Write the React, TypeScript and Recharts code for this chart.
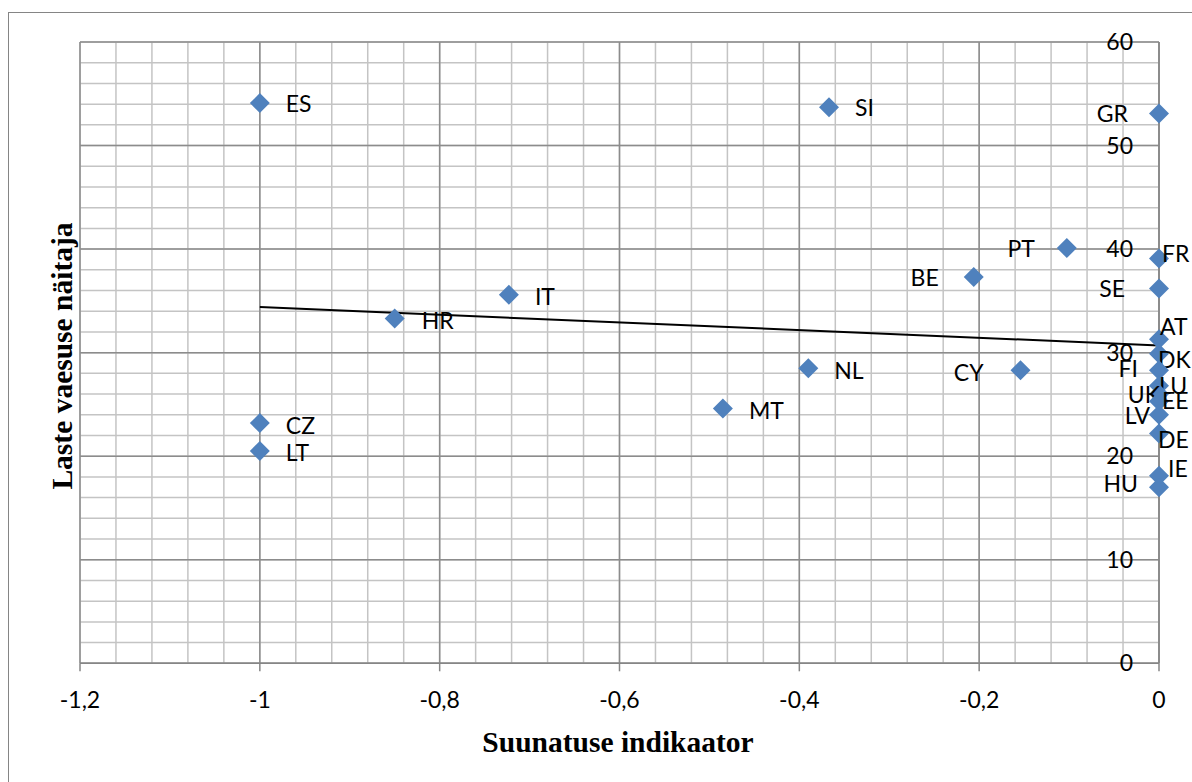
import React from 'react';
import { ScatterChart, Scatter, XAxis, YAxis, ReferenceLine } from 'recharts';

// ---- data ----
const countries = ['ES', 'SI', 'GR', 'PT', 'FR', 'BE', 'SE', 'IT', 'HR', 'CZ', 'LT', 'NL', 'CY', 'MT', 'AT', 'DK', 'FI', 'LU', 'UK', 'EE', 'LV', 'DE', 'IE', 'HU'];
const direction = [-1, -0.367, 0, -0.1025, 0, -0.206, 0, -0.723, -0.85, -1, -1, -0.39, -0.154, -0.485, 0, 0, 0, 0, 0, 0, 0, 0, 0, 0];
const childPoverty = [54.1, 53.7, 53.1, 40.1, 39.1, 37.3, 36.2, 35.6, 33.3, 23.2, 20.5, 28.5, 28.3, 24.6, 31.3, 29.9, 28.3, 26.8, 26.0, 25.3, 24.0, 22.2, 18.1, 17.0];
const xTicks = [-1.2, -1, -0.8, -0.6, -0.4, -0.2, 0];
const yTicks = [0, 10, 20, 30, 40, 50, 60];
const trendX = [-1, 0];
const trendY = [34.4, 30.7];

const xTitle = 'Suunatuse indikaator';
const yTitle = 'Laste vaesuse näitaja';

// ---- label placement (style) ----
type Place = { side: 'left' | 'right'; dx: number; dy: number };
const labelPlacement: Record<string, Place> = {
  ES: { side: 'right', dx: 26, dy: 0 },
  SI: { side: 'right', dx: 26, dy: 0 },
  GR: { side: 'left', dx: -31, dy: 0 },
  PT: { side: 'left', dx: -32, dy: 0 },
  FR: { side: 'right', dx: 3, dy: -5 },
  BE: { side: 'left', dx: -35, dy: 0 },
  SE: { side: 'left', dx: -34, dy: 0 },
  IT: { side: 'right', dx: 26, dy: 1 },
  HR: { side: 'right', dx: 27, dy: 2 },
  CZ: { side: 'right', dx: 26, dy: 2 },
  LT: { side: 'right', dx: 26, dy: 1 },
  NL: { side: 'right', dx: 26, dy: 2 },
  CY: { side: 'left', dx: -37, dy: 2 },
  MT: { side: 'right', dx: 26, dy: 1 },
  AT: { side: 'right', dx: 1, dy: -13 },
  DK: { side: 'right', dx: -1, dy: 5 },
  FI: { side: 'left', dx: -21, dy: -2 },
  LU: { side: 'right', dx: 0, dy: -1 },
  UK: { side: 'left', dx: 1, dy: 0 },
  EE: { side: 'right', dx: 3, dy: -1 },
  LV: { side: 'left', dx: -9, dy: 0 },
  DE: { side: 'right', dx: -1, dy: 6 },
  IE: { side: 'right', dx: 9, dy: -8 },
  HU: { side: 'left', dx: -21, dy: -4 },
};

const points = countries.map((name, i) => ({ name, x: direction[i], y: childPoverty[i] }));

const minorX: number[] = [];
for (let i = 0; i <= 30; i++) minorX.push(+(-1.2 + i * 0.04).toFixed(4));
const minorY: number[] = [];
for (let i = 0; i <= 30; i++) minorY.push(i * 2);

const FONT = 'Lato, "Open Sans", sans-serif';
const SERIF = '"Liberation Serif", "Times New Roman", serif';
const MARKER = '#4F81BD';
const MINOR = '#c4c4c4';
const MAJOR = '#8c8c8c';
const AXIS = '#868686';

const fmt = (v: number) => String(v).replace('.', ',');

const Diamond = (props: any) => {
  const { cx, cy, payload } = props;
  if (cx == null || cy == null) return null;
  const r = 10;
  const p = labelPlacement[payload.name] || { side: 'right', dx: 26, dy: 0 };
  return (
    <g>
      <polygon points={`${cx},${cy - r} ${cx + r},${cy} ${cx},${cy + r} ${cx - r},${cy}`} fill={MARKER} />
      <text
        x={cx + p.dx}
        y={cy + p.dy}
        textAnchor={p.side === 'left' ? 'end' : 'start'}
        dominantBaseline="central"
        fontFamily={FONT}
        fontSize={23}
        fill="#000"
      >
        {payload.name}
      </text>
    </g>
  );
};

export default function App() {
  return (
    <div style={{ position: 'relative', width: 1192, height: 782, overflow: 'hidden', background: '#fff' }}>
      <style>{'body{margin:0;}'}</style>
      <div
        style={{
          position: 'absolute',
          left: 8,
          top: 12,
          width: 1200,
          height: 800,
          border: '1px solid #858585',
          boxSizing: 'border-box',
        }}
      />
      <div style={{ position: 'absolute', left: 0, top: 0 }}>
        <ScatterChart width={1192} height={782} margin={{ top: 42, right: 33, left: 80, bottom: 58.7 }}>
          <XAxis
            type="number"
            dataKey="x"
            domain={[-1.2, 0]}
            ticks={xTicks}
            tickFormatter={fmt}
            height={60}
            tickSize={8}
            tickMargin={20}
            axisLine={{ stroke: AXIS, strokeWidth: 1.5 }}
            tickLine={{ stroke: AXIS, strokeWidth: 1.5 }}
            tick={{ fill: '#000', fontSize: 23, fontFamily: FONT }}
          />
          <YAxis
            type="number"
            dataKey="y"
            domain={[0, 60]}
            ticks={yTicks}
            orientation="right"
            mirror
            width={60}
            tickSize={6}
            tickMargin={20}
            axisLine={{ stroke: AXIS, strokeWidth: 1.5 }}
            tickLine={false}
            tick={{ fill: '#000', fontSize: 23, fontFamily: FONT }}
          />
          {minorX.map((v) => (
            <ReferenceLine key={`mx${v}`} x={v} stroke={MINOR} strokeWidth={1.5} />
          ))}
          {minorY.map((v) => (
            <ReferenceLine key={`my${v}`} y={v} stroke={MINOR} strokeWidth={1.5} />
          ))}
          {xTicks.map((v) => (
            <ReferenceLine key={`Mx${v}`} x={v} stroke={MAJOR} strokeWidth={1.5} />
          ))}
          {yTicks.map((v) => (
            <ReferenceLine key={`My${v}`} y={v} stroke={MAJOR} strokeWidth={1.5} />
          ))}
          <ReferenceLine
            segment={[
              { x: trendX[0], y: trendY[0] },
              { x: trendX[1], y: trendY[1] },
            ]}
            stroke="#000"
            strokeWidth={2}
            ifOverflow="visible"
          />
          <Scatter data={points} shape={Diamond} isAnimationActive={false} />
        </ScatterChart>
      </div>
      <div
        style={{
          position: 'absolute',
          left: 618,
          top: 742,
          transform: 'translate(-50%, -50%)',
          fontFamily: SERIF,
          fontWeight: 'bold',
          fontSize: 29.5,
          whiteSpace: 'nowrap',
          color: '#000',
        }}
      >
        {xTitle}
      </div>
      <div
        style={{
          position: 'absolute',
          left: 62,
          top: 356,
          transform: 'translate(-50%, -50%) rotate(-90deg)',
          fontFamily: SERIF,
          fontWeight: 'bold',
          fontSize: 29.5,
          whiteSpace: 'nowrap',
          color: '#000',
        }}
      >
        {yTitle}
      </div>
    </div>
  );
}
